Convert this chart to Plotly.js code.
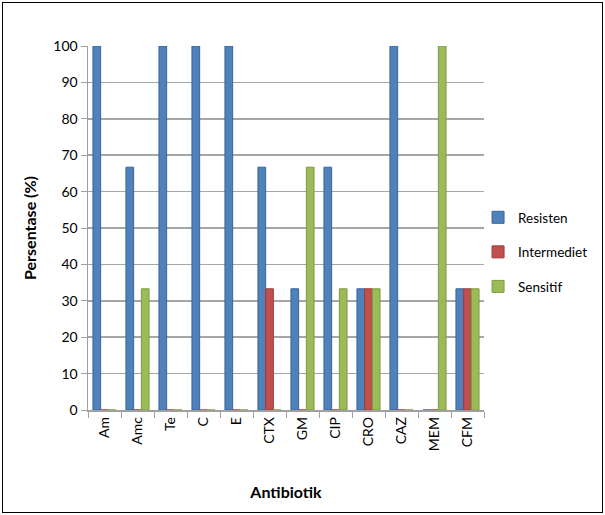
<!DOCTYPE html>
<html>
<head>
<meta charset="utf-8">
<script src="https://cdn.plot.ly/plotly-3.0.1.min.js"></script>
<style>
html,body{margin:0;padding:0;background:#fff;}
#wrap{position:relative;width:605px;height:515px;}
#chart{width:605px;height:515px;}
#frame{position:absolute;left:2px;top:2px;width:599px;height:509px;border:1px solid #000;pointer-events:none;}
</style>
</head>
<body>
<div id="wrap"><div id="chart"></div><div id="frame"></div></div>
<script>
const categories = ["Am","Amc","Te","C","E","CTX","GM","CIP","CRO","CAZ","MEM","CFM"];
const resisten    = [100, 66.7, 100, 100, 100, 66.7, 33.3, 66.7, 33.3, 100, 0, 33.3];
const intermediet = [0, 0, 0, 0, 0, 33.3, 0, 0, 33.3, 0, 0, 33.3];
const sensitif    = [0, 33.3, 0, 0, 0, 0, 66.7, 33.3, 33.3, 0, 100, 33.3];
const yTicks = [0,10,20,30,40,50,60,70,80,90,100];

const font = "Lato, 'Open Sans', sans-serif";
function tr(name, y, color, line){
  return {type:'bar', name:name, legendgroup:name, x:categories, y:y,
    marker:{color:color, line:{color:line, width:1}}};
}
const data = [
  tr('Resisten', resisten, '#4F81BD', '#3A6597'),
  tr('Intermediet', intermediet, '#C0504D', '#9C3B38'),
  tr('Sensitif', sensitif, '#9BBB59', '#7E9C42')
];
const layout = {
  width:605, height:515,
  margin:{l:88, r:118, t:46, b:105},
  paper_bgcolor:'#fff', plot_bgcolor:'#fff',
  font:{family:font, size:14, color:'#000'},
  barmode:'group', bargap:0.3, bargroupgap:0,
  showlegend:true,
  legend:{x:0.985, y:0.434, xanchor:'left', yanchor:'middle',
    bgcolor:'rgba(0,0,0,0)',
    font:{family:font, size:13.5}, tracegroupgap:14, itemwidth:30,
    traceorder:'grouped'},
  xaxis:{
    type:'category', tickangle:-90, tickson:'boundaries',
    ticks:'outside', ticklen:6, tickcolor:'#A0A0A0',
    showline:true, linecolor:'#A0A0A0', linewidth:1.5,
    showgrid:false, tickfont:{family:font, size:14},
    title:{text:'Antibiotik', font:{family:font, size:16, weight:'bold'}, standoff:36}
  },
  yaxis:{
    range:[0,100], tickvals:yTicks, ticks:'outside', ticklen:6, tickcolor:'#A0A0A0',
    showline:true, linecolor:'#A0A0A0', linewidth:1.5,
    showgrid:true, gridcolor:'#A6A6A6', gridwidth:1.5, zeroline:false,
    tickfont:{family:font, size:14},
    title:{text:'Persentase (%)', font:{family:font, size:16, weight:'bold'}, standoff:12}
  }
};
Plotly.newPlot('chart', data, layout, {displayModeBar:false, staticPlot:true});
</script>
</body>
</html>
